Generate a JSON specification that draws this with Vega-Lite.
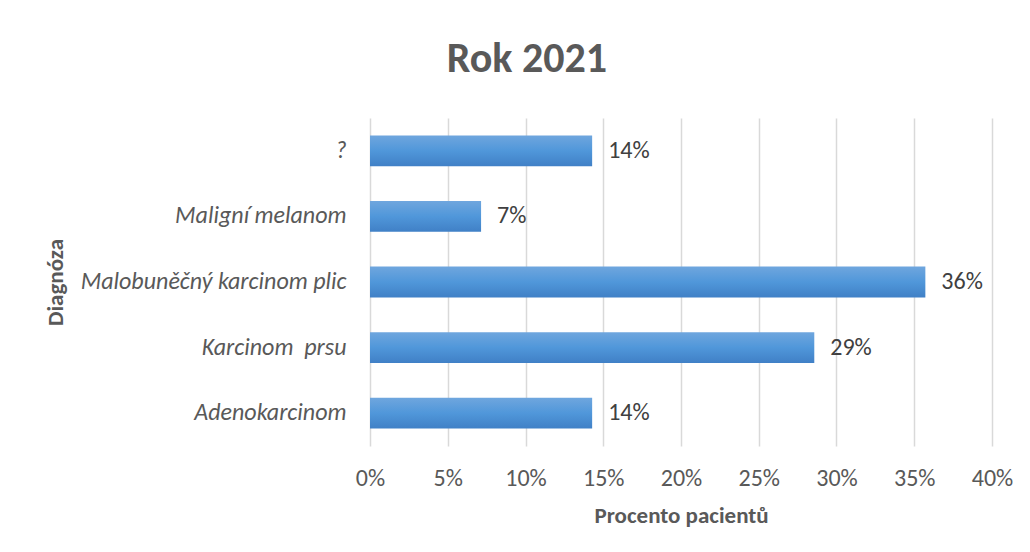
{
  "$schema": "https://vega.github.io/schema/vega-lite/v6.json",
  "width": 622,
  "height": 328,
  "autosize": {"type": "none"},
  "padding": {"left": 370, "top": 118, "right": 38, "bottom": 106},
  "background": "white",
  "title": {
    "text": "Rok 2021",
    "fontSize": 42,
    "fontWeight": "bold",
    "font": "Carlito, Lato, sans-serif",
    "color": "#595959",
    "anchor": "middle",
    "dx": -154,
    "offset": 37
  },
  "data": {
    "values": [
      {"diagnoza": "?", "podil": 0.142857},
      {"diagnoza": "Maligní melanom", "podil": 0.071429},
      {"diagnoza": "Malobuněčný karcinom plic", "podil": 0.357143},
      {"diagnoza": "Karcinom \u00a0prsu", "podil": 0.285714},
      {"diagnoza": "Adenokarcinom", "podil": 0.142857}
    ]
  },
  "encoding": {
    "y": {
      "field": "diagnoza",
      "type": "nominal",
      "sort": null,
      "title": "Diagnóza",
      "scale": {"paddingInner": 0.53, "paddingOuter": 0.265},
      "axis": {
        "ticks": false,
        "domain": false,
        "labelPadding": 24,
        "labelLimit": 400,
        "labelFontSize": 24,
        "labelFontStyle": "italic",
        "labelFont": "Carlito, Lato, sans-serif",
        "labelColor": "#595959",
        "titleFont": "Carlito, Lato, sans-serif",
        "titleFontSize": 23,
        "titleFontWeight": "bold",
        "titleColor": "#595959",
        "titleAngle": -90,
        "titleBaseline": "bottom",
        "titleAlign": "center",
        "titleX": -303,
        "titleY": 164
      }
    },
    "x": {
      "field": "podil",
      "type": "quantitative",
      "title": "Procento pacientů",
      "scale": {"domain": [0, 0.4]},
      "axis": {
        "format": ".0%",
        "values": [0, 0.05, 0.1, 0.15, 0.2, 0.25, 0.3, 0.35, 0.4],
        "labelOverlap": false,
        "labelFlush": false,
        "ticks": false,
        "domain": false,
        "grid": true,
        "gridColor": "#d9d9d9",
        "gridWidth": 1.5,
        "labelPadding": 20,
        "labelFontSize": 24,
        "labelFont": "Carlito, Lato, sans-serif",
        "labelColor": "#595959",
        "titleFont": "Carlito, Lato, sans-serif",
        "titleFontSize": 23,
        "titleFontWeight": "bold",
        "titleColor": "#595959",
        "titlePadding": 14
      }
    }
  },
  "layer": [
    {
      "mark": {
        "type": "bar",
        "color": {
          "gradient": "linear",
          "x1": 0, "y1": 0, "x2": 0, "y2": 1,
          "stops": [
            {"offset": 0, "color": "#6fa6de"},
            {"offset": 0.5, "color": "#5097da"},
            {"offset": 1, "color": "#4080c6"}
          ]
        }
      }
    },
    {
      "mark": {
        "type": "text",
        "align": "left",
        "baseline": "middle",
        "dx": 16,
        "fontSize": 24,
        "font": "Carlito, Lato, sans-serif",
        "color": "#404040"
      },
      "encoding": {
        "text": {"field": "podil", "type": "quantitative", "format": ".0%"}
      }
    }
  ],
  "config": {
    "view": {"stroke": null}
  }
}
